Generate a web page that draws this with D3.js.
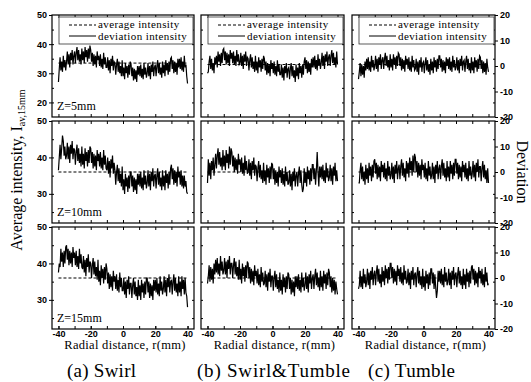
<!DOCTYPE html>
<html>
<head>
<meta charset="utf-8">
<script src="https://cdn.jsdelivr.net/npm/d3@7"></script>
<style>
body { margin: 0; background: #fff; }
</style>
</head>
<body>
<div id="main"></div>
<script>
// samples every 0.5 mm, r = -40 ... 40 (161 values per curve)
const rStart = -40;
const rStep = 0.5;

const captions = ['(a) Swirl', '(b) Swirl&Tumble', '(c) Tumble'];
const zLabels = ['Z=5mm', 'Z=10mm', 'Z=15mm'];

const swirl5 = [
  27, 31.5, 35.5, 31, 34, 30.5, 36, 32, 34.5, 31,
  34, 37.5, 33, 36.5, 32, 37, 34.5, 38, 33, 36,
  37.5, 33.5, 37, 39, 34.5, 38, 34, 36.5, 33, 38.5,
  34.5, 37.5, 33.5, 39, 35.5, 38, 34, 38.5, 35, 39.5,
  38, 34, 37, 32.5, 36.5, 33, 36, 32, 37.5, 34.5,
  36, 32.5, 36.5, 32, 35, 31.5, 37, 33, 35.5, 32,
  32, 35.5, 31, 34.5, 30, 35, 32.5, 36, 31, 34,
  33.5, 29.5, 33, 35, 30.5, 34, 30, 32.5, 29, 34.5,
  29, 32, 28, 33.5, 30, 32.5, 28.5, 33, 29.5, 34,
  33, 29, 32, 27.5, 31.5, 28, 31, 27, 32.5, 29.5,
  32.5, 29, 33, 28.5, 31.5, 28, 33.5, 29.5, 32, 28.5,
  30, 33.5, 29, 32.5, 28, 33, 30.5, 34, 29, 32,
  33, 29, 32.5, 34.5, 30, 33.5, 29.5, 32, 28.5, 34,
  30, 33, 29, 34.5, 31, 33.5, 29.5, 34, 30.5, 35,
  35.5, 31.5, 34.5, 30, 34, 30.5, 33.5, 29.5, 35, 32,
  35, 31.5, 35.5, 31, 34, 30.5, 36, 32, 33, 29,
  26.5
];
const swirlTumble5 = [
  30, 30.5, 34, 36, 31.5, 35, 31, 33.5, 30, 35.5,
  33, 36, 32, 37.5, 34, 36.5, 32.5, 37, 33.5, 38,
  38.5, 34.5, 37.5, 33, 37, 33.5, 36.5, 32.5, 38, 35,
  37, 33.5, 37.5, 33, 36, 32.5, 38, 34, 36.5, 33,
  33.5, 37, 32.5, 36, 31.5, 36.5, 34, 37.5, 32.5, 35.5,
  35, 31, 34.5, 36.5, 32, 35.5, 31.5, 34, 30.5, 36,
  31, 34, 30, 35.5, 32, 34.5, 30.5, 35, 31.5, 36,
  35, 31, 34, 29.5, 33.5, 30, 33, 29, 34.5, 31.5,
  33.5, 30, 34, 29.5, 32.5, 29, 34.5, 30.5, 33, 29.5,
  29.5, 33, 28.5, 32, 27.5, 32.5, 30, 33.5, 28.5, 31.5,
  32, 28, 31.5, 33.5, 29, 32.5, 28.5, 31, 27, 33,
  29, 32, 28, 33.5, 30, 32.5, 28.5, 33, 29.5, 34,
  35.5, 31.5, 34.5, 30, 34, 30.5, 33.5, 29.5, 35, 32,
  35.5, 32, 36, 31.5, 34.5, 31, 36.5, 32.5, 35, 31.5,
  33.5, 37, 32.5, 36, 31.5, 36.5, 34, 37.5, 32.5, 35.5,
  36.5, 32.5, 36, 38, 33.5, 37, 33, 35.5, 32, 37.5,
  33
];
const tumble5 = [
  28, 30.5, 33.5, 29, 33, 29.5, 32.5, 28.5, 34, 31,
  35, 31.5, 35.5, 31, 34, 30.5, 36, 32, 34.5, 31,
  32.5, 36, 31.5, 35, 30.5, 35.5, 33, 36.5, 31.5, 34.5,
  35.5, 31.5, 35, 37, 32.5, 36, 32, 34.5, 31, 36.5,
  32, 35, 31, 36.5, 33, 35.5, 31.5, 36, 32.5, 37,
  36.5, 32.5, 35.5, 31, 35, 31.5, 34.5, 30.5, 36, 33,
  35, 31.5, 35.5, 31, 34, 30.5, 36, 32, 34.5, 31,
  31.5, 35, 30.5, 34, 29.5, 34.5, 32, 35.5, 30.5, 33.5,
  34, 30, 33.5, 35.5, 31, 34.5, 30.5, 33, 29.5, 35,
  31, 34, 30, 35.5, 32, 34.5, 30.5, 35, 31.5, 36,
  36, 32, 35, 30.5, 34.5, 31, 34, 30, 35.5, 32.5,
  35, 31.5, 35.5, 31, 34, 30.5, 36, 32, 34.5, 31,
  32, 35.5, 31, 34.5, 30, 35, 32.5, 36, 31, 34,
  34.5, 30.5, 34, 36, 31.5, 35, 31, 33.5, 30, 35.5,
  31, 34, 30, 35.5, 32, 34.5, 30.5, 35, 31.5, 36,
  35.5, 31.5, 34.5, 30, 34, 30.5, 33.5, 29.5, 35, 32,
  30.5
];
const swirl10 = [
  36.5, 40, 43.5, 39.5, 42.5, 46, 44.5, 40.5, 43, 39.5,
  40.5, 44, 39.5, 43, 38.5, 43.5, 41, 44.5, 39.5, 42.5,
  42, 38, 41.5, 43.5, 39, 42.5, 38.5, 41, 37.5, 43,
  38, 41, 37, 42.5, 39, 41.5, 37.5, 42, 38.5, 43,
  42.5, 38.5, 41.5, 37, 41, 37.5, 40.5, 36.5, 42, 39,
  41, 37.5, 41.5, 37, 40, 36.5, 42, 38, 40.5, 37,
  36.5, 40, 35.5, 39, 34.5, 39.5, 37, 40.5, 35.5, 38.5,
  36.5, 32.5, 36, 38, 33.5, 37, 33, 35.5, 32, 37.5,
  31, 34, 30, 35.5, 32, 34.5, 30.5, 35, 31.5, 36,
  36, 32, 35, 30.5, 34.5, 31, 34, 30, 35.5, 32.5,
  35.5, 32, 36, 31.5, 34.5, 31, 36.5, 32.5, 35, 31.5,
  33, 36.5, 32, 35.5, 31, 36, 33.5, 37, 32, 35,
  35.5, 31.5, 35, 37, 32.5, 36, 32, 34.5, 31, 36.5,
  32, 35, 31, 36.5, 33, 35.5, 31.5, 36, 32.5, 37,
  38, 34, 37, 32.5, 36.5, 33, 36, 32, 37.5, 34.5,
  36, 32.5, 36.5, 32, 35, 31.5, 35, 32, 33.5, 30.5,
  30
];
const swirlTumble10 = [
  33, 39.5, 35, 38.5, 34, 39, 36.5, 40, 35, 38,
  41, 37, 40.5, 42.5, 38, 41.5, 37.5, 40, 36.5, 42,
  37.5, 40.5, 36.5, 42, 38.5, 41, 37, 43, 38, 42.5,
  41.5, 37.5, 40.5, 36, 40, 36.5, 39.5, 35.5, 41, 38,
  39.5, 36, 40, 35.5, 38.5, 35, 40.5, 36.5, 39, 35.5,
  36, 39.5, 35, 38.5, 34, 39, 36.5, 40, 35, 38,
  37.5, 33.5, 37, 39, 34.5, 38, 34, 36.5, 33, 38.5,
  33.5, 36.5, 32.5, 38, 34.5, 37, 33, 37.5, 34, 38.5,
  38, 34, 37, 32.5, 36.5, 33, 36, 32, 37.5, 34.5,
  36.5, 33, 37, 32.5, 35.5, 32, 37.5, 33.5, 36, 32.5,
  33, 36.5, 32, 35.5, 31, 36, 33.5, 37, 32, 35,
  36, 32, 35.5, 37.5, 33, 36.5, 32.5, 30.5, 31.5, 37,
  33, 36, 32, 37.5, 34, 36.5, 32.5, 37, 33.5, 38,
  38, 34, 37, 32.5, 36.5, 41.5, 36, 32, 37.5, 34.5,
  37.5, 34, 38, 33.5, 36.5, 33, 38.5, 34.5, 37, 33.5,
  34.5, 38, 33.5, 37, 32.5, 37.5, 35, 38.5, 33.5, 36.5,
  33.5
];
const tumble10 = [
  33, 33, 36.5, 38.5, 34, 37.5, 33.5, 36, 32.5, 38,
  34, 37, 33, 38.5, 35, 37.5, 33.5, 38, 34.5, 39,
  39.5, 35.5, 38.5, 34, 38, 34.5, 37.5, 33.5, 39, 36,
  38, 34.5, 38.5, 34, 37, 33.5, 39, 35, 37.5, 34,
  35, 38.5, 34, 37.5, 33, 38, 35.5, 39, 34, 37,
  38, 34, 37.5, 39.5, 35, 38.5, 34.5, 37, 33.5, 39,
  35.5, 38.5, 34.5, 40, 36.5, 39, 35, 40.5, 36, 41,
  40, 36, 39, 34.5, 38.5, 35, 38, 34, 39.5, 36.5,
  38, 34.5, 38.5, 34, 37, 33.5, 39, 35, 37.5, 34,
  35, 38.5, 34, 37.5, 33, 38, 35.5, 39, 34, 37,
  38, 34, 37.5, 39.5, 35, 38.5, 34.5, 37, 33.5, 39,
  34.5, 37.5, 33.5, 39, 35.5, 38, 34, 38.5, 35, 39.5,
  39.5, 35.5, 38.5, 34, 38, 34.5, 37.5, 33.5, 39, 36,
  38, 34.5, 38.5, 34, 37, 33.5, 39, 35, 37.5, 34,
  35.5, 39, 34.5, 38, 33.5, 38.5, 36, 39.5, 34.5, 37.5,
  37.5, 33.5, 37, 39, 34.5, 38, 34, 36.5, 33, 37,
  33
];
const swirl15 = [
  37.5, 40, 39, 44, 40.5, 43, 39, 43.5, 40, 44.5,
  45, 41, 44, 39.5, 43.5, 40, 43, 39, 44.5, 41.5,
  43, 39.5, 43.5, 39, 42, 38.5, 44, 40, 42.5, 39,
  38.5, 42, 37.5, 41, 36.5, 41.5, 39, 42.5, 37.5, 40.5,
  40, 36, 39.5, 41.5, 37, 40.5, 36.5, 39, 35.5, 41,
  35, 38, 34, 39.5, 36, 38.5, 34.5, 39, 35.5, 40,
  38.5, 34.5, 37.5, 33, 37, 33.5, 36.5, 32.5, 38, 35,
  36.5, 33, 37, 32.5, 35.5, 32, 37.5, 33.5, 36, 32.5,
  32.5, 36, 31.5, 35, 30.5, 35.5, 33, 36.5, 31.5, 34.5,
  34.5, 30.5, 34, 36, 31.5, 35, 31, 33.5, 30, 35.5,
  31, 34, 30, 35.5, 32, 34.5, 30.5, 35, 31.5, 36,
  36, 32, 35, 30.5, 34.5, 31, 34, 30, 35.5, 32.5,
  35.5, 32, 36, 31.5, 34.5, 31, 36.5, 32.5, 35, 31.5,
  33, 36.5, 32, 35.5, 31, 36, 33.5, 37, 32, 35,
  35.5, 31.5, 35, 37, 32.5, 36, 32, 34.5, 31, 36.5,
  32, 35, 31, 36.5, 33, 35.5, 31.5, 36, 32, 31,
  28
];
const swirlTumble15 = [
  34.5, 36.5, 39.5, 35, 39, 35.5, 38.5, 34.5, 40, 37,
  41, 37.5, 41.5, 37, 40, 36.5, 42, 38, 40.5, 37,
  38, 41.5, 37, 40.5, 36, 41, 38.5, 42, 37, 40,
  40, 36, 39.5, 41.5, 37, 40.5, 36.5, 39, 35.5, 41,
  35.5, 38.5, 34.5, 40, 36.5, 39, 35, 39.5, 36, 40.5,
  40, 36, 39, 34.5, 38.5, 35, 38, 34, 39.5, 36.5,
  38, 34.5, 38.5, 34, 37, 33.5, 39, 35, 37.5, 34,
  34.5, 38, 33.5, 37, 32.5, 37.5, 35, 38.5, 33.5, 36.5,
  36.5, 32.5, 36, 38, 33.5, 37, 33, 35.5, 32, 37.5,
  32.5, 35.5, 31.5, 37, 33.5, 36, 32, 36.5, 33, 37.5,
  37, 33, 36, 31.5, 35.5, 32, 35, 31, 36.5, 33.5,
  36.5, 33, 37, 32.5, 35.5, 32, 37.5, 33.5, 36, 32.5,
  34, 37.5, 33, 36.5, 32, 37, 34.5, 38, 33, 36,
  37, 33, 36.5, 38.5, 34, 37.5, 33.5, 36, 32.5, 38,
  33.5, 36.5, 32.5, 38, 34.5, 37, 33, 37.5, 34, 38.5,
  37.5, 33.5, 36.5, 32, 36, 32.5, 35.5, 31.5, 35, 33,
  31.5
];
const tumble15 = [
  33, 34, 38, 33.5, 36.5, 33, 38.5, 34.5, 37, 33.5,
  35, 38.5, 34, 37.5, 33, 38, 35.5, 39, 34, 37,
  38, 34, 37.5, 39.5, 35, 38.5, 34.5, 37, 33.5, 39,
  35, 38, 34, 39.5, 36, 38.5, 34.5, 39, 35.5, 40,
  40, 36, 39, 34.5, 38.5, 35, 38, 34, 39.5, 36.5,
  38.5, 35, 39, 34.5, 37.5, 34, 39.5, 35.5, 38, 34.5,
  35, 38.5, 34, 37.5, 33, 38, 35.5, 39, 34, 37,
  37.5, 33.5, 37, 39, 34.5, 38, 34, 36.5, 33, 38.5,
  33.5, 36.5, 32.5, 38, 34.5, 37, 33, 37.5, 34, 38.5,
  38.5, 34.5, 37.5, 33, 37, 33.5, 30.5, 32.5, 38, 35,
  38, 34.5, 38.5, 34, 37, 33.5, 39, 35, 37.5, 34,
  35, 38.5, 34, 37.5, 33, 38, 35.5, 39, 34, 37,
  37.5, 33.5, 37, 39, 34.5, 38, 34, 36.5, 33, 38.5,
  34, 37, 33, 38.5, 35, 37.5, 33.5, 38, 34.5, 39,
  39.5, 35.5, 38.5, 34, 38, 34.5, 37.5, 33.5, 39, 36,
  38, 34.5, 38.5, 34, 37, 33.5, 39, 35, 37.5, 34,
  34.5
];

const averages = [
  [33.5, 33, 33],
  [36, 36, 36],
  [36, 36, 36]
];
const leftDomains = [[15, 50], [22, 50], [22, 50]];
const leftTicks = [[20, 30, 40, 50], [30, 40, 50], [30, 40, 50]];
const leftMinor = [[20, 25, 30, 35, 40, 45], [25, 30, 35, 40, 45], [25, 30, 35, 40, 45]];
const devTicks = [-20, -10, 0, 10, 20];
const rTicks = [-40, -20, 0, 20, 40];
const rMinor = [-40, -30, -20, -10, 0, 10, 20, 30, 40];

const series = [
  [swirl5, swirlTumble5, tumble5],
  [swirl10, swirlTumble10, tumble10],
  [swirl15, swirlTumble15, tumble15]
];

const width = 531;
const height = 382;
const colX = [52, 201, 352];
const colW = [142, 143, 143];
const rowY = [15, 121, 227];
const rowH = 102;

const serif = '"Liberation Serif", "Times New Roman", serif';
const sans = '"Liberation Sans", Arial, sans-serif';

const svg = d3.select('#main').append('svg')
  .attr('width', width)
  .attr('height', height);

function styleAxis(sel) {
  sel.select('.domain').remove();
  sel.selectAll('line').attr('stroke', '#000').attr('stroke-width', 1);
  sel.selectAll('text')
    .attr('font-family', sans)
    .attr('font-weight', 'bold')
    .attr('font-size', 9)
    .attr('fill', '#000');
}

series.forEach((rowData, ri) => {
  rowData.forEach((values, ci) => {
    const w = colW[ci];
    const g = svg.append('g')
      .attr('transform', `translate(${colX[ci]},${rowY[ri]})`);

    const x = d3.scaleLinear().domain([-44, 44]).range([0, w]);
    const y = d3.scaleLinear().domain(leftDomains[ri]).range([rowH, 0]);
    const yDev = d3.scaleLinear().domain([-20, 20]).range([rowH, 0]);

    // small inward ticks on every side
    g.append('g').call(d3.axisTop(x).tickValues(rMinor).tickSize(-3).tickFormat(''))
      .call(styleAxis);
    g.append('g').attr('transform', `translate(0,${rowH})`)
      .call(d3.axisBottom(x).tickValues(rMinor).tickSize(-3).tickFormat(''))
      .call(styleAxis);
    g.append('g').call(d3.axisLeft(y).tickValues(leftMinor[ri]).tickSize(-2).tickFormat(''))
      .call(styleAxis);
    g.append('g').attr('transform', `translate(${w},0)`)
      .call(d3.axisRight(y).tickValues(leftMinor[ri]).tickSize(-2).tickFormat(''))
      .call(styleAxis);

    if (ci === 0) {
      g.append('g')
        .call(d3.axisLeft(y).tickValues(leftTicks[ri]).tickSize(3).tickPadding(2).tickFormat(d => String(d)))
        .call(styleAxis);
    }
    if (ci === 2) {
      g.append('g').attr('transform', `translate(${w},0)`)
        .call(d3.axisRight(yDev).tickValues(devTicks).tickSize(3).tickPadding(2).tickFormat(d => String(d)))
        .call(styleAxis);
    }
    if (ri === 2) {
      g.append('g').attr('transform', `translate(0,${rowH})`)
        .call(d3.axisBottom(x).tickValues(rTicks).tickSize(-3).tickPadding(2).tickFormat(d => String(d)))
        .call(styleAxis);
      g.append('text')
        .attr('x', w / 2 + 2)
        .attr('y', rowH + 20)
        .attr('text-anchor', 'middle')
        .attr('font-family', serif)
        .attr('font-size', 12.5)
        .attr('letter-spacing', 0.3)
        .text('Radial distance, r(mm)');
    }

    // average intensity
    g.append('line')
      .attr('x1', x(rStart))
      .attr('x2', x(rStart + (values.length - 1) * rStep))
      .attr('y1', y(averages[ri][ci]))
      .attr('y2', y(averages[ri][ci]))
      .attr('stroke', '#000')
      .attr('stroke-width', 1)
      .attr('stroke-dasharray', '3,2');

    const lineGen = d3.line()
      .x((d, i) => x(rStart + i * rStep))
      .y(d => y(d));

    g.append('path')
      .datum(values)
      .attr('fill', 'none')
      .attr('stroke', '#000')
      .attr('stroke-width', 1.2)
      .attr('d', lineGen);

    g.append('rect')
      .attr('width', w)
      .attr('height', rowH)
      .attr('fill', 'none')
      .attr('stroke', '#000')
      .attr('stroke-width', 1.2);

    if (ci === 0) {
      g.append('text')
        .attr('x', 5)
        .attr('y', rowH - 7)
        .attr('font-family', serif)
        .attr('font-size', 12)
        .text(zLabels[ri]);
    }

    if (ri === 0) {
      const leg = g.append('g');
      leg.append('rect')
        .attr('x', 7)
        .attr('y', 2)
        .attr('width', w - 8)
        .attr('height', 27)
        .attr('fill', '#fff')
        .attr('stroke', '#333')
        .attr('stroke-width', 0.8);
      leg.append('line')
        .attr('x1', 17).attr('x2', 44).attr('y1', 10).attr('y2', 10)
        .attr('stroke', '#000').attr('stroke-dasharray', '3,2');
      leg.append('line')
        .attr('x1', 17).attr('x2', 44).attr('y1', 21).attr('y2', 21)
        .attr('stroke', '#000');
      leg.append('text')
        .attr('x', 46).attr('y', 13)
        .attr('font-family', serif).attr('font-size', 11)
        .attr('letter-spacing', 0.4)
        .text('average intensity');
      leg.append('text')
        .attr('x', 46).attr('y', 24.5)
        .attr('font-family', serif).attr('font-size', 11)
        .attr('letter-spacing', 0.4)
        .text('deviation intensity');
    }
  });
});

// axis titles
const yTitle = svg.append('text')
  .attr('transform', 'translate(22,170) rotate(-90)')
  .attr('text-anchor', 'middle')
  .attr('font-family', serif)
  .attr('font-size', 16);
yTitle.append('tspan').text('Average intensity, I');
yTitle.append('tspan').attr('font-size', 10).attr('dy', 3).text('av,15mm');

svg.append('text')
  .attr('transform', 'translate(517,172) rotate(90)')
  .attr('text-anchor', 'middle')
  .attr('font-family', serif)
  .attr('font-size', 16)
  .text('Deviation');

const captionX = [67, 197, 368];
const captionW = [69, 153, 87];
svg.selectAll('text.caption')
  .data(captions)
  .enter()
  .append('text')
  .attr('class', 'caption')
  .attr('x', (d, i) => captionX[i])
  .attr('y', 377)
  .attr('font-family', serif)
  .attr('font-size', 19)
  .attr('textLength', (d, i) => captionW[i])
  .attr('lengthAdjust', 'spacing')
  .text(d => d);
</script>
</body>
</html>
